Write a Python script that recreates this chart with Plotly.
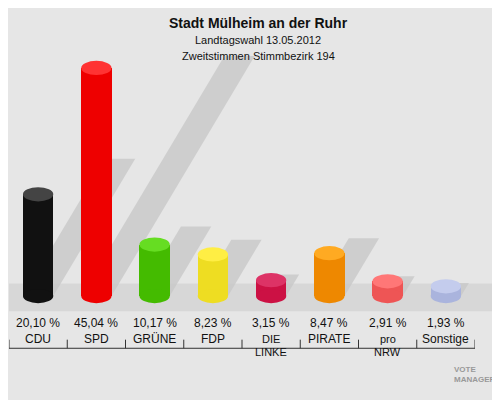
import plotly.graph_objects as go

parties = ["CDU","SPD","GRÜNE","FDP","DIE<br>LINKE","PIRATE","pro<br>NRW","Sonstige"]
values = [20.10,45.04,10.17,8.23,3.15,8.47,2.91,1.93]
labels = ["20,10 %","45,04 %","10,17 %","8,23 %","3,15 %","8,47 %","2,91 %","1,93 %"]
colors = ["#111111","#ee0000","#44bb00","#eedd22","#cc1144","#ee8800","#ee5555","#aab4dd"]
tops = ["#444444","#ff3333","#66dd22","#ffee44","#dd3366","#ffaa22","#ff7777","#c4cced"]

x = list(range(len(parties)))
w = 0.52
eh = 1.4
fig = go.Figure()
shapes = []
shapes.append(dict(type="path", xref="paper", yref="y", layer="below",
    path="M 0,-3 L 1.06,-3 L 1.06,2.5 L 0,2.5 Z", fillcolor="rgba(215,215,215,1)", line_width=0))
for i, v in enumerate(values):
    hh = v * 1.35
    dx = v * 0.07
    shapes.append(dict(type="path", xref="x", yref="y", layer="below",
        path=f"M {i-w/2},0 L {i+w/2},0 L {i+w/2+dx},{hh} L {i-w/2+dx},{hh} Z",
        fillcolor="rgba(200,200,200,0.8)", line_width=0))
fig.add_trace(go.Bar(x=x, y=values, marker_color=colors, width=w, marker_line_width=0, hoverinfo="skip"))
for i, v in enumerate(values):
    shapes.append(dict(type="circle", xref="x", yref="y", x0=i-w/2, x1=i+w/2, y0=-eh, y1=eh, fillcolor=colors[i], line_width=0))
    shapes.append(dict(type="circle", xref="x", yref="y", x0=i-w/2, x1=i+w/2, y0=v-eh, y1=v+eh, fillcolor=tops[i], line_width=0))
shapes.append(dict(type="line", xref="x", yref="y", x0=-0.5, x1=7.5, y0=-10.3, y1=-10.3, line=dict(color="#333", width=1)))
for b in [i-0.5 for i in range(9)]:
    shapes.append(dict(type="line", xref="x", yref="y", x0=b, x1=b, y0=-10.3, y1=-8.6, line=dict(color="#333", width=1)))
ann = []
for i in x:
    ann.append(dict(x=i, y=-5.3, xref="x", yref="y", text=labels[i], showarrow=False, font=dict(size=12, color="#111")))
    lines = parties[i].split("<br>")
    two = len(lines) == 2
    for k, ln in enumerate(lines):
        ann.append(dict(x=i, y=-8.4 - k * 2.65, xref="x", yref="y", text=ln, showarrow=False,
                        yanchor="middle", font=dict(size=11 if two else 12, color="#111")))
fig.update_layout(
    width=500, height=400, margin=dict(l=1, r=33, t=48, b=42),
    paper_bgcolor="#e6e6e6", plot_bgcolor="rgba(0,0,0,0)",
    showlegend=False, bargap=0,
    xaxis=dict(range=[-0.5,7.5], visible=False, fixedrange=True),
    yaxis=dict(range=[-13.8,47.4], visible=False),
    shapes=shapes, font=dict(family="Liberation Sans, Arial"),
)
H = 310
for txt, yy, sz, bold in [("Stadt Mülheim an der Ruhr", 15, 14, True), ("Landtagswahl 13.05.2012", 32, 11, False), ("Zweitstimmen Stimmbezirk 194", 48, 11, False)]:
    ann.append(dict(x=(250 - 1) / 466, xref="paper", y=1 + (48 - yy) / H, yref="paper", text=f"<b>{txt}</b>" if bold else txt,
                    showarrow=False, yanchor="middle", font=dict(size=sz, color="#111")))
ann.append(dict(x=1.05, xref="paper", y=(358 - 378) / H, yref="paper", text="<b>VOTE<br>MANAGER</b>", showarrow=False,
                xanchor="right", align="left", font=dict(size=8, color="#999")))
fig.update_layout(annotations=ann)
fig.write_html("out.html")
